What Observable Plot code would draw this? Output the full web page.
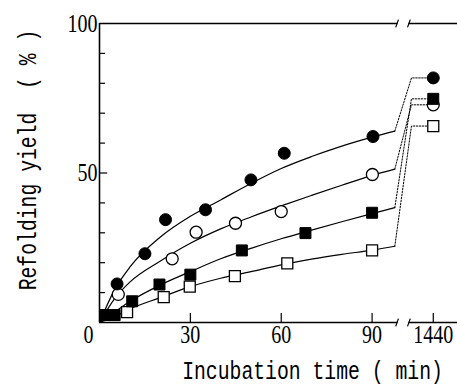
<!DOCTYPE html>
<html><head><meta charset="utf-8">
<script src="https://cdn.jsdelivr.net/npm/d3@7"></script>
<script src="https://cdn.jsdelivr.net/npm/@observablehq/plot@0.6"></script>
<style>html,body{margin:0;padding:0;background:#fff}</style>
</head><body><div id="chart"></div>
<script>
// ---- data (time in min, refolding yield in %) ----
const fcTime  = [5.8, 15, 21.8, 35, 50, 61, 90.3, 1440];
const fcYield = [12.9, 23, 34.4, 37.7, 47.7, 56.6, 62.2, 81.8];
const ocTime  = [6.2, 24, 31.9, 44.9, 60, 90.1, 1440];
const ocYield = [9.4, 21.3, 30.2, 33.2, 37.1, 49.5, 72.8];
const fsTime  = [2, 5, 10.8, 19.8, 30, 47, 68, 90, 1440];
const fsYield = [2.5, 2.5, 7.1, 12.7, 16, 24.1, 29.9, 36.7, 74.8];
const osTime  = [9.1, 21.2, 29.8, 44.7, 62, 90, 1440];
const osYield = [3.5, 8.5, 12, 15.5, 19.8, 24.1, 65.7];

// fitted curves
const curveTime = [0, 5, 10, 20, 30, 40, 50, 60, 70, 80, 90, 97.5];
const fcCurve = [0, 11, 18.5, 28.5, 35.5, 41, 46.5, 51.5, 55.5, 59, 62, 64];
const ocCurve = [0, 8, 13.5, 20.5, 26.5, 31.3, 35.3, 39, 42.5, 45.9, 49.2, 51.3];
const fsCurve = [0, 3.5, 7, 12.5, 17, 21.3, 24.8, 28, 30.9, 33.7, 36.4, 38.4];
const osCurve = [0, 2, 4.5, 8.3, 12, 14.8, 17, 19.3, 21.2, 22.8, 24.2, 25.5];

const xTickValues = [30, 60, 90, 1440];
const xTickLabels = ["30", "60", "90", "1440"];
const yMinorTicks = [10, 20, 30, 40, 60, 70, 80, 90];
const yLabelValues = [50, 100];
const xTitle = "Incubation time ( min)";
const yTitle = "Refolding yield  ( % )";

// ---- broken x axis: 0..~98 min, then a gap, then 1440 ----
const BREAK_LO = 98.4, BREAK_HI = 102, KNEE = 103, POS_1440 = 110.2, X_MAX = 118.2;
const toPos = t => t > 100 ? POS_1440 : t;

const mk = (name, times, ys) => times.map((t, i) => ({series: name, x: toPos(t), y: ys[i]}));
const fc = mk("fc", fcTime, fcYield), oc = mk("oc", ocTime, ocYield),
      fs = mk("fs", fsTime, fsYield), os = mk("os", osTime, osYield);

const curves = [["fc", fcCurve], ["oc", ocCurve], ["fs", fsCurve], ["os", osCurve]]
  .flatMap(([name, ys]) => curveTime.map((t, i) => ({series: name, x: t, y: ys[i]})));

const conn = [["fc", fcCurve, fcYield], ["oc", ocCurve, ocYield], ["fs", fsCurve, fsYield], ["os", osCurve, osYield]]
  .flatMap(([name, cy, py]) => {
    const yEnd = py[py.length - 1];
    return [
      {series: name, x: curveTime[curveTime.length - 1], y: cy[cy.length - 1]},
      {series: name, x: KNEE, y: yEnd},
      {series: name, x: POS_1440, y: yEnd}
    ];
  });

const spines = [
  {x1: 0, x2: BREAK_LO, y: 0}, {x1: BREAK_HI, x2: X_MAX, y: 0},
  {x1: 0, x2: BREAK_LO, y: 100}, {x1: BREAK_HI, x2: X_MAX, y: 100}
];
const breaks = [
  {x1: BREAK_LO - 0.6, y1: -1.3, x2: BREAK_LO + 0.3, y2: 1.3},
  {x1: BREAK_HI - 0.3, y1: -1.3, x2: BREAK_HI + 0.6, y2: 1.3},
  {x1: BREAK_LO - 0.6, y1: 98.7, x2: BREAK_LO + 0.3, y2: 101.3},
  {x1: BREAK_HI - 0.3, y1: 98.7, x2: BREAK_HI + 0.6, y2: 101.3}
];

const serif = "Liberation Serif, DejaVu Serif, serif";
const mono = "Liberation Mono, DejaVu Sans Mono, monospace";

const plot = Plot.plot({
  width: 457, height: 387,
  marginLeft: 99, marginRight: 0, marginTop: 23, marginBottom: 65,
  x: {type: "linear", domain: [0, X_MAX], axis: null},
  y: {type: "linear", domain: [0, 100], axis: null},
  style: {background: "white", overflow: "visible", fontFamily: serif, color: "black"},
  marks: [
    // frame pieces
    Plot.ruleX([0], {y1: () => 0, y2: () => 100, stroke: "black", strokeWidth: 1.6}),
    Plot.link(spines, {x1: d => d.x1, x2: d => d.x2, y1: d => d.y, y2: d => d.y, stroke: "black", strokeWidth: 1.6}),
    Plot.link(breaks, {x1: "x1", y1: "y1", x2: "x2", y2: "y2", stroke: "black", strokeWidth: 1.2, clip: false}),
    // ticks (inward)
    Plot.ruleX(xTickValues.map(toPos), {y1: () => 0, y2: () => 3, stroke: "black", strokeWidth: 1.2}),
    Plot.ruleY(yMinorTicks, {x1: () => 0, x2: () => 2, stroke: "black", strokeWidth: 1.2}),
    Plot.ruleY([50], {x1: () => 0, x2: () => 2.7, stroke: "black", strokeWidth: 1.2}),
    // tick labels
    Plot.text(xTickValues, {x: d => toPos(d), y: () => 0, text: (d, i) => xTickLabels[i], dy: 12, fontSize: 25}),
    Plot.text(["0"], {x: () => 0, y: () => 0, text: d => d, dx: -11, dy: 12, fontSize: 25}),
    Plot.text(yLabelValues, {x: () => 0, y: d => d, text: d => String(d), textAnchor: "end", dx: -2, fontSize: 25}),
    // axis titles
    Plot.text([xTitle], {frameAnchor: "bottom", text: d => d, textAnchor: "middle", lineAnchor: "bottom", dx: 34, dy: 56, fontSize: 26}),
    Plot.text([yTitle], {frameAnchor: "left", text: d => d, rotate: -90, textAnchor: "middle", lineAnchor: "middle", dx: -72, dy: -13, fontSize: 26}),
    // fitted curves and dotted connectors to the 24 h values
    Plot.line(curves, {x: "x", y: "y", z: "series", curve: "monotone-x", stroke: "black", strokeWidth: 1.2}),
    Plot.line(conn, {x: "x", y: "y", z: "series", stroke: "black", strokeWidth: 1, strokeDasharray: "1.5,1.5"}),
    // markers
    Plot.dot(os, {x: "x", y: "y", symbol: "square", r: 6.2, fill: "white", stroke: "black", strokeWidth: 1.3}),
    Plot.dot(oc, {x: "x", y: "y", symbol: "circle", r: 6, fill: "white", stroke: "black", strokeWidth: 1.3}),
    Plot.dot(fs, {x: "x", y: "y", symbol: "square", r: 6.2, fill: "black", stroke: "black", strokeWidth: 1}),
    Plot.dot(fc, {x: "x", y: "y", symbol: "circle", r: 6, fill: "black", stroke: "black", strokeWidth: 1})
  ]
});

// condensed, tall lettering as in the original
const tickTexts = new Set([...xTickLabels, "0", ...yLabelValues.map(String)]);
plot.querySelectorAll("text").forEach(t => {
  const s = t.textContent;
  const tr = t.getAttribute("transform") || "";
  if (tickTexts.has(s)) {
    t.style.fontFamily = serif;
    t.setAttribute("transform", tr + " scale(0.8,1)");
  } else if (s === xTitle || s === yTitle) {
    t.style.fontFamily = mono;
    t.setAttribute("transform", tr + " scale(0.76,1)");
  }
});

document.getElementById("chart").appendChild(plot);
</script>
</body></html>
